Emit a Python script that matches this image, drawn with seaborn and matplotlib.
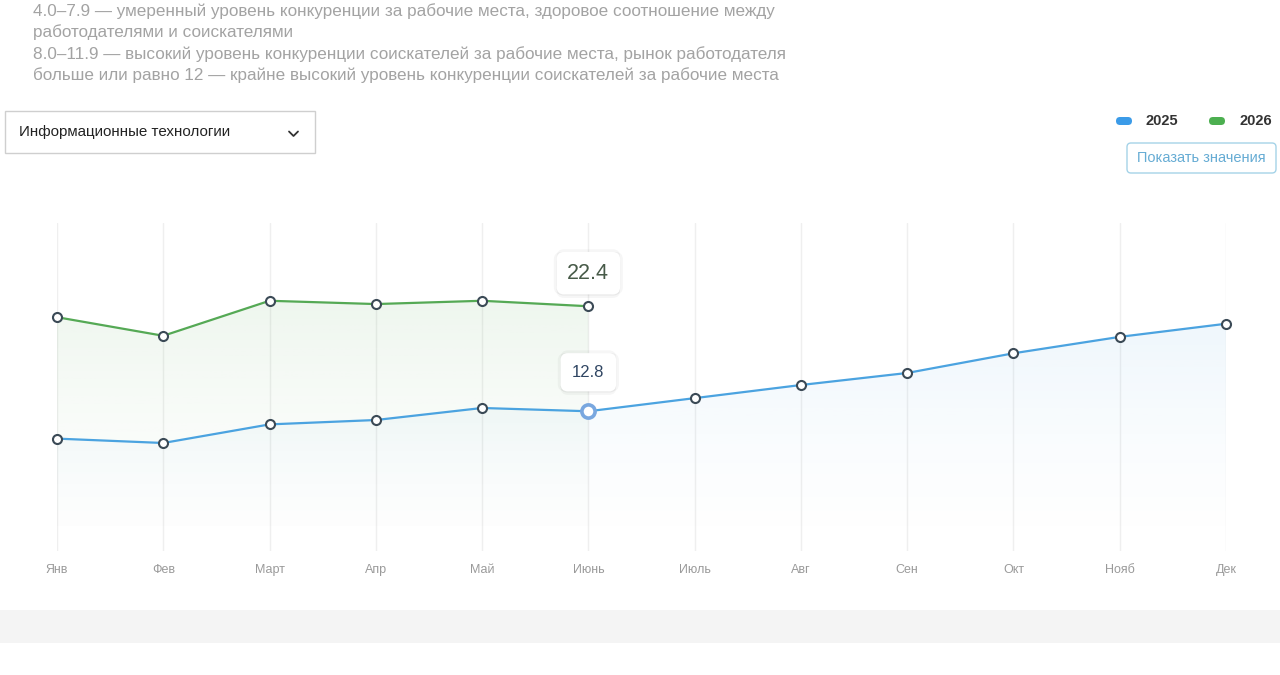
import numpy as np
import pandas as pd
import matplotlib
matplotlib.use('Agg')
import matplotlib.pyplot as plt
import matplotlib.colors as mcolors
import matplotlib.patheffects as pe
from matplotlib.patches import FancyBboxPatch, Rectangle
from matplotlib.lines import Line2D
import seaborn as sns

# --- data ---
months = ['Янв', 'Фев', 'Март', 'Апр', 'Май', 'Июнь',
          'Июль', 'Авг', 'Сен', 'Окт', 'Нояб', 'Дек']
values_2025 = [10.3, 9.9, 11.6, 12.0, 13.1, 12.8, 14.0, 15.2, 16.3, 18.1, 19.6, 20.8]
values_2026 = [21.4, 19.7, 22.9, 22.6, 22.9, 22.4]
series_names = ['2025', '2026']
line_colors = {'2025': '#4ba3e0', '2026': '#55a955'}
legend_colors = {'2025': '#3b9be8', '2026': '#4caf50'}
header_lines = [
    '4.0–7.9 — умеренный уровень конкуренции за рабочие места, здоровое соотношение между',
    'работодателями и соискателями',
    '8.0–11.9 — высокий уровень конкуренции соискателей за рабочие места, рынок работодателя',
    'больше или равно 12 — крайне высокий уровень конкуренции соискателей за рабочие места',
]
industry = 'Информационные технологии'
button_label = 'Показать значения'
highlight_month = 5  # Июнь

W, H = 1280, 675

sns.set_style('white')
plt.rcParams['font.family'] = ['Liberation Sans', 'DejaVu Sans']

fig = plt.figure(figsize=(W / 100, H / 100), dpi=100)
fig.patch.set_facecolor('white')


def fx(x):
    return x / W


def fy(y):
    return 1 - y / H


def inch(x, y):
    return x / 100, (H - y) / 100


# long-form table for seaborn
df = pd.concat([
    pd.DataFrame({'month': range(len(values_2025)), 'value': values_2025, 'year': '2025'}),
    pd.DataFrame({'month': range(len(values_2026)), 'value': values_2026, 'year': '2026'}),
], ignore_index=True)

# chart area: Jan at x=57px, Dec at x=1226px, zero at y=551px
ymax = 30
bottom_px = 551.3
top_px = bottom_px - ymax * 10.94
ax = fig.add_axes([fx(57), fy(bottom_px), fx(1226 - 57), (bottom_px - top_px) / H])
ax.set_facecolor('none')


def gradient_fill(ax, x, y, color, alpha_top):
    poly = ax.fill_between(x, y, 0, facecolor='none', edgecolor='none')
    path = poly.get_paths()[0]
    rgb = mcolors.to_rgb(color)
    z = np.empty((200, 1, 4))
    z[:, :, :3] = rgb
    z[:, :, 3] = alpha_top * np.linspace(0, 1, 200)[:, None] ** 1.4
    im = ax.imshow(z, aspect='auto', origin='lower', zorder=1,
                   extent=[min(x), max(x), 0, max(y)])
    im.set_clip_path(path, transform=ax.transData)


fill_alpha = {'2025': 0.09, '2026': 0.10}
for name in series_names:
    sub = df[df['year'] == name]
    gradient_fill(ax, sub['month'].to_numpy(), sub['value'].to_numpy(),
                  line_colors[name], fill_alpha[name])

for name in series_names:
    sub = df[df['year'] == name]
    sns.lineplot(data=sub, x='month', y='value', ax=ax, color=line_colors[name],
                 lw=1.6, marker='o', markersize=6.5, markerfacecolor='white',
                 markeredgecolor='#3b4a56', markeredgewidth=1.5,
                 clip_on=False, zorder=3, legend=False)

# highlighted hover point on 2025
ax.plot([highlight_month], [values_2025[highlight_month]], marker='o', ms=9.5,
        mfc='white', mec='#79a7df', mew=2.6, zorder=5, clip_on=False)

ax.set_xlim(0, len(months) - 1)
ax.set_ylim(0, ymax)
ax.set_xticks(range(len(months)))
ax.set_xticklabels(months)
ax.set_yticks([])
ax.set_xlabel('')
ax.set_ylabel('')
ax.tick_params(axis='x', length=0, pad=9, labelsize=9, labelcolor='#9a9a9a')
ax.grid(axis='x', color='#efefef', lw=1)
ax.set_axisbelow(True)
for s in ax.spines.values():
    s.set_visible(False)

# tooltips with a soft all-round shadow
shadow = [pe.SimplePatchShadow(offset=o, shadow_rgbFace='#000000', alpha=0.035)
          for o in [(0, -2.5), (0, 2), (2, 0), (-2, 0), (0, -1)]] + [pe.Normal()]
t1 = ax.annotate(f'{values_2026[highlight_month]:.1f}',
                 xy=(highlight_month, values_2026[highlight_month]),
                 xytext=(0, 33), textcoords='offset pixels', ha='center', va='center',
                 fontsize=15.5, color='#475a48', zorder=7,
                 bbox=dict(boxstyle='round,pad=0.5,rounding_size=0.35', fc='white',
                           ec='none'))
t1.get_bbox_patch().set_path_effects(shadow)
t2 = ax.annotate(f'{values_2025[highlight_month]:.1f}',
                 xy=(highlight_month, values_2025[highlight_month]),
                 xytext=(0, 39), textcoords='offset pixels', ha='center', va='center',
                 fontsize=12, color='#2f4562', zorder=7,
                 bbox=dict(boxstyle='round,pad=0.7,rounding_size=0.45', fc='white',
                           ec='none'))
t2.get_bbox_patch().set_path_effects(shadow)

# header description
for i, line in enumerate(header_lines):
    fig.text(fx(33), fy(11 + 21.3 * i), line, fontsize=12.3, color='#a3a3a3',
             ha='left', va='center')

# dropdown
x0, y0 = inch(5, 153)
fig.patches.append(Rectangle((x0, y0), 310 / 100, 42 / 100, transform=fig.dpi_scale_trans,
                             fc='white', ec='#cfcfcf', lw=1))
fig.text(fx(19), fy(132), industry, fontsize=10.9, color='#222222', ha='left', va='center')
cx, cy = [289, 293.5, 298], [131.5, 136, 131.5]
fig.lines.append(Line2D([fx(v) for v in cx], [fy(v) for v in cy], transform=fig.transFigure,
                        color='#333333', lw=1.3))

# legend pills
for name, (px, tx) in zip(series_names, [(1116, 1145), (1209, 1239)]):
    lx, ly = inch(px, 125)
    fig.patches.append(FancyBboxPatch((lx, ly), 0.16, 0.08,
                                      boxstyle='round,pad=0,rounding_size=0.04',
                                      transform=fig.dpi_scale_trans,
                                      fc=legend_colors[name], ec='none'))
    fig.text(fx(tx), fy(121), name, fontsize=10.5, fontweight='bold', color='#333333',
             ha='left', va='center')

# button
bx, by = inch(1127, 173)
fig.patches.append(FancyBboxPatch((bx, by), 1.49, 0.30,
                                  boxstyle='round,pad=0,rounding_size=0.04',
                                  transform=fig.dpi_scale_trans,
                                  fc='white', ec='#a5d3e8', lw=1))
fig.text(fx(1201.5), fy(158), button_label, fontsize=10.5, color='#66acd4',
         ha='center', va='center')

# grey band below the chart
fig.patches.append(Rectangle((0, fy(643)), 1, (643 - 610) / H, transform=fig.transFigure,
                             fc='#f4f4f4', ec='none'))

fig.savefig('out.png', dpi=100)
